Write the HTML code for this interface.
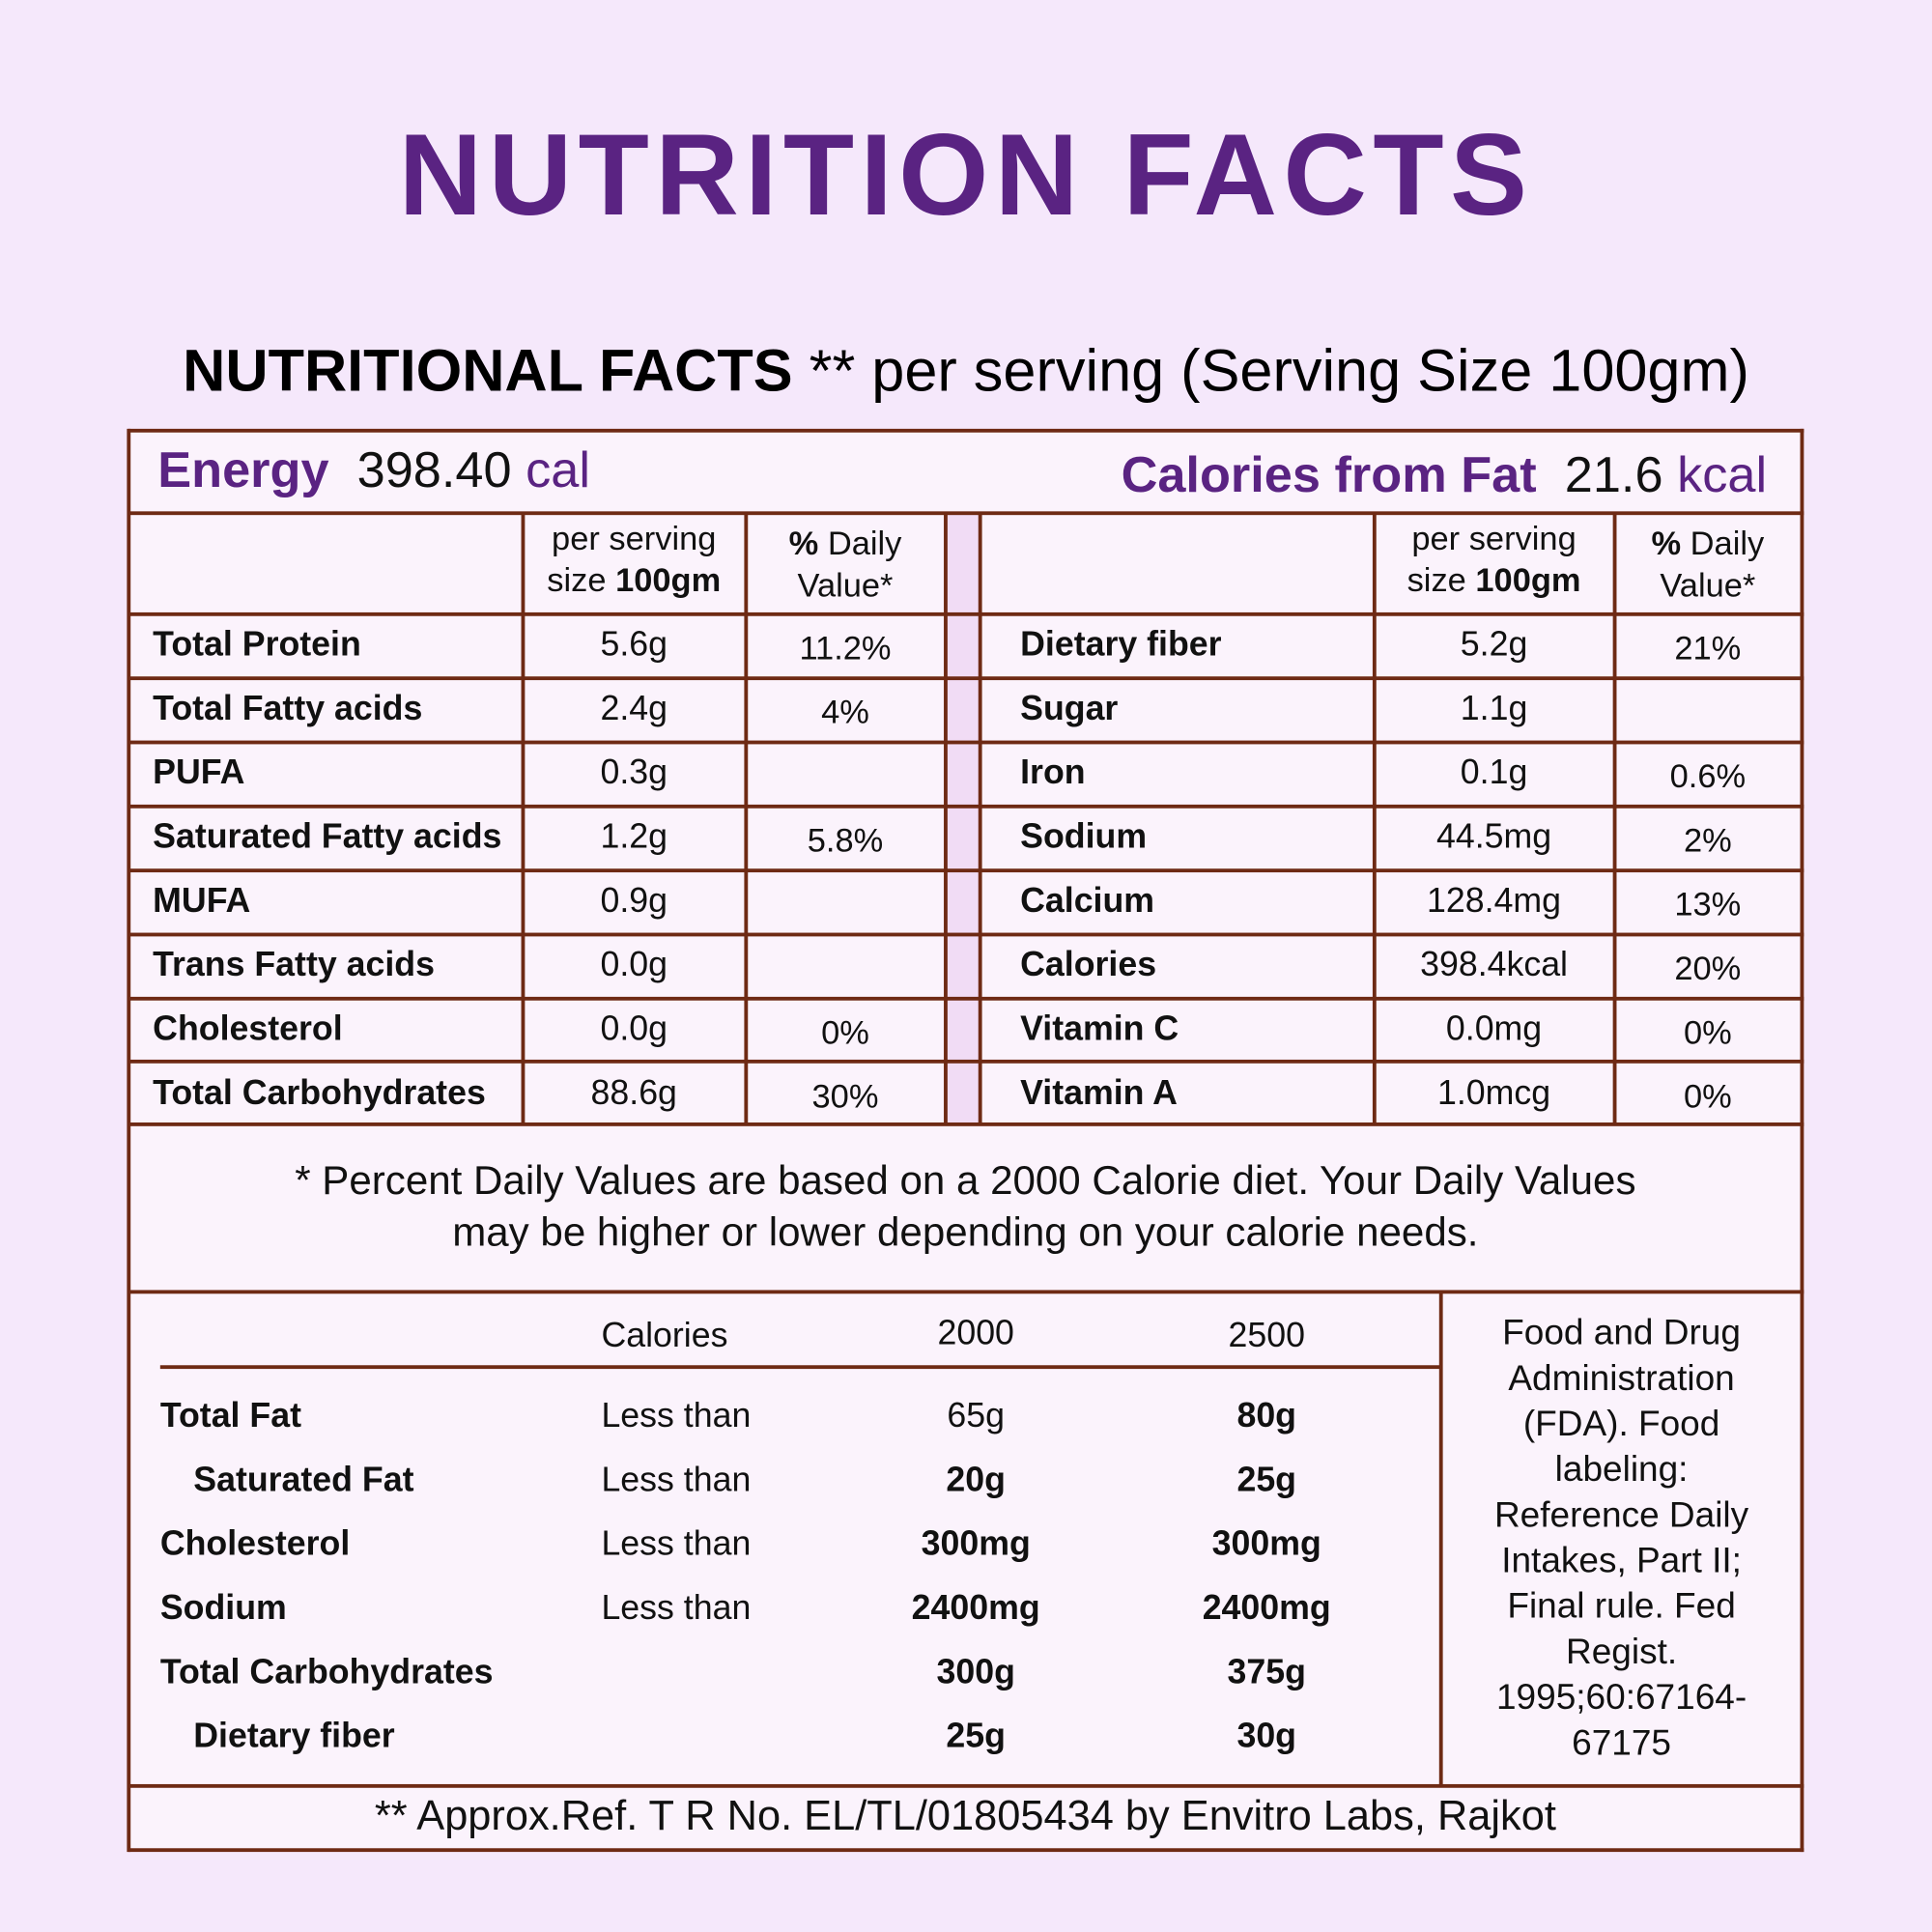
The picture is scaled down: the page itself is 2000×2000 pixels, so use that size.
<!DOCTYPE html>
<html><head><meta charset="utf-8"><style>
html,body{margin:0;padding:0;width:2000px;height:2000px;overflow:hidden;background:#f5e8fb}
#s{position:absolute;left:0;top:0;width:1568px;height:1568px;transform:scale(1.27551);transform-origin:0 0;font-family:"Liberation Sans",sans-serif;color:#111}
.a{position:absolute;white-space:nowrap}
.t{position:absolute;height:40px;line-height:40px;white-space:nowrap;font-size:27px}
.c{text-align:center}
.b{font-weight:bold}
.h{position:absolute;background:#6e2a14;height:3px}
.v{position:absolute;background:#6e2a14;width:3px}
.p{color:#5a2382}
</style></head><body>
<div id="s">
<div class="a b p" style="left:0;width:1568px;text-align:center;top:88px;font-size:94px;letter-spacing:5px">NUTRITION FACTS</div>
<div class="a" style="left:0;width:1568px;text-align:center;top:274px;font-size:48px;color:#000"><b>NUTRITIONAL FACTS</b> ** per serving (Serving Size 100gm)</div>

<div class="a" style="left:104px;top:349px;width:1359px;height:1153px;background:#fbf3fc"></div>
<div class="a" style="left:768px;top:416px;width:28px;height:496px;background:#f1dcf5"></div>

<div class="h" style="left:104px;top:348px;width:1360px"></div>
<div class="h" style="left:104px;top:415px;width:1360px"></div>
<div class="h" style="left:104px;top:497px;width:1360px"></div>
<div class="h" style="left:104px;top:549px;width:1360px"></div>
<div class="h" style="left:104px;top:601px;width:1360px"></div>
<div class="h" style="left:104px;top:653px;width:1360px"></div>
<div class="h" style="left:104px;top:705px;width:1360px"></div>
<div class="h" style="left:104px;top:757px;width:1360px"></div>
<div class="h" style="left:104px;top:809px;width:1360px"></div>
<div class="h" style="left:104px;top:860px;width:1360px"></div>
<div class="h" style="left:104px;top:911px;width:1360px"></div>
<div class="h" style="left:104px;top:1047px;width:1360px"></div>
<div class="h" style="left:130px;top:1108px;width:1040px"></div>
<div class="h" style="left:104px;top:1448px;width:1360px"></div>
<div class="h" style="left:104px;top:1500px;width:1360px"></div>
<div class="v" style="left:103px;top:348px;height:1155px"></div>
<div class="v" style="left:1461px;top:348px;height:1155px"></div>
<div class="v" style="left:423px;top:416px;height:496px"></div>
<div class="v" style="left:604px;top:416px;height:496px"></div>
<div class="v" style="left:766px;top:416px;height:496px"></div>
<div class="v" style="left:794px;top:416px;height:496px"></div>
<div class="v" style="left:1114px;top:416px;height:496px"></div>
<div class="v" style="left:1309px;top:416px;height:496px"></div>
<div class="v" style="left:1168px;top:1048px;height:402px"></div>

<div class="a" style="left:128px;top:358px;font-size:41px"><b class="p">Energy</b>&nbsp; 398.40 <span class="p">cal</span></div>
<div class="a" style="right:134px;top:362px;font-size:41px"><b class="p">Calories from Fat</b>&nbsp; 21.6 <span class="p">kcal</span></div>

<div class="t c" style="left:424px;width:181px;top:420px;font-size:27px;line-height:34px;height:70px">per serving<br>size <b>100gm</b></div>
<div class="t c" style="left:605px;width:162px;top:424px;font-size:27px;line-height:34px;height:70px"><b>%</b> Daily<br>Value*</div>
<div class="t c" style="left:1115px;width:195px;top:420px;font-size:27px;line-height:34px;height:70px">per serving<br>size <b>100gm</b></div>
<div class="t c" style="left:1310px;width:152px;top:424px;font-size:27px;line-height:34px;height:70px"><b>%</b> Daily<br>Value*</div>

<div class="a c" style="left:104px;width:1359px;top:937px;font-size:33px;line-height:42px">* Percent Daily Values are based on a 2000 Calorie diet. Your Daily Values<br>may be higher or lower depending on your calorie needs.</div>

<div class="a c" style="left:1170px;width:292px;top:1064px;font-size:29px;line-height:37px">Food and Drug<br>Administration<br>(FDA). Food<br>labeling:<br>Reference Daily<br>Intakes, Part II;<br>Final rule. Fed<br>Regist.<br>1995;60:67164-<br>67175</div>

<div class="a c" style="left:104px;width:1359px;top:1455px;font-size:34px">** Approx.Ref. T R No. EL/TL/01805434 by Envitro Labs, Rajkot</div>
</div>
<script>
const leftRows=[["Total Protein","5.6g","11.2%"],["Total Fatty acids","2.4g","4%"],["PUFA","0.3g",""],["Saturated Fatty acids","1.2g","5.8%"],["MUFA","0.9g",""],["Trans Fatty acids","0.0g",""],["Cholesterol","0.0g","0%"],["Total Carbohydrates","88.6g","30%"]];
const rightRows=[["Dietary fiber","5.2g","21%"],["Sugar","1.1g",""],["Iron","0.1g","0.6%"],["Sodium","44.5mg","2%"],["Calcium","128.4mg","13%"],["Calories","398.4kcal","20%"],["Vitamin C","0.0mg","0%"],["Vitamin A","1.0mcg","0%"]];
const refRows=[["Total Fat","Less than","65g","80g",0],["Saturated Fat","Less than","20g","25g",1],["Cholesterol","Less than","300mg","300mg",0],["Sodium","Less than","2400mg","2400mg",0],["Total Carbohydrates","","300g","375g",0],["Dietary fiber","","25g","30g",1]];
const s=document.getElementById('s');
function add(x,w,y,txt,cls,fs){const d=document.createElement('div');d.className='t '+cls;d.style.left=x+'px';if(w)d.style.width=w+'px';d.style.top=y+'px';if(fs)d.style.fontSize=fs+'px';d.textContent=txt;s.appendChild(d);return d;}
leftRows.forEach((r,i)=>{const y=503+i*52;
let e=add(124,0,y,r[0],'b',28);


e=add(424,181,y,r[1],'c',28);


e=add(605,162,y+3,r[2],'c',27);

});
rightRows.forEach((r,i)=>{const y=503+i*52;
let e=add(828,0,y,r[0],'b',28);


e=add(1115,195,y,r[1],'c',28);


e=add(1310,152,y+3,r[2],'c',27);

});
let h=add(488,0,1064,'Calories','',28);


h=add(712,160,1062,'2000','c',28);


h=add(948,160,1064,'2500','c',28);


refRows.forEach((r,i)=>{const y=1129+i*52;
let e=add(r[4]?157:130,0,y,r[0],'b',28);


e=add(488,0,y,r[1],'',28);


e=add(712,160,y,r[2],i==0?'c':'c b',28);


e=add(948,160,y,r[3],'c b',28);

});
</script>
</body></html>
